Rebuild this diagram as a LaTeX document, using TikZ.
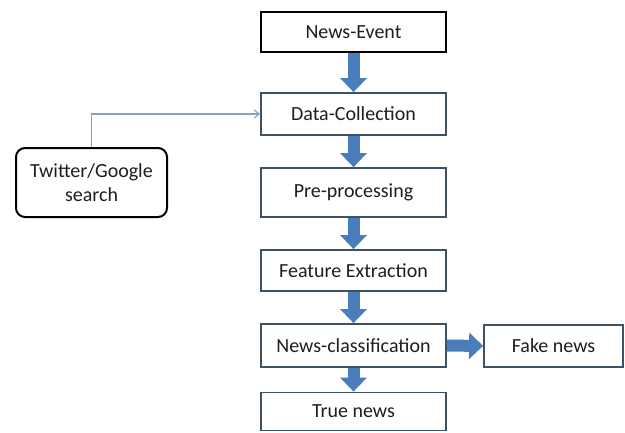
\documentclass[tikz,border=0pt]{standalone}
\usepackage{fontspec}
\setmainfont{Carlito}
\usetikzlibrary{arrows.meta}
\definecolor{boxline}{HTML}{3E5166}
\definecolor{blockblue}{HTML}{4A7EBB}
\definecolor{thinblue}{HTML}{7FA3C6}
\definecolor{txt}{HTML}{1E1E1E}
\tikzset{
  stepbox/.style={draw=boxline, line width=1.8pt, fill=white, minimum width=185pt,
    text=txt, font=\fontsize{20}{24}\selectfont, inner sep=0pt},
  topbox/.style={stepbox, draw=black, line width=2.2pt},
  srcbox/.style={draw=black, line width=2pt, rounded corners=9pt, fill=white,
    minimum width=151pt, minimum height=69pt, align=center, text=txt,
    font=\fontsize{20}{24}\selectfont, inner sep=0pt},
  blockarrow/.style={draw=blockblue, line width=12pt,
    -{Triangle[length=14pt,width=26pt]}},
  thinarrow/.style={draw=thinblue, line width=1.1pt, -{Straight Barb[length=5pt,width=8pt]}}
}
\begin{document}
\begin{tikzpicture}[x=1pt,y=-1pt]
\useasboundingbox[fill=white] (0,0) rectangle (625,432);
\node[topbox, minimum height=40pt] (ne) at (353.5,32) {News-Event};
\node[stepbox, minimum height=42pt] (dc) at (353.5,114) {Data-Collection};
\node[stepbox, minimum height=49pt] (pp) at (353.5,192.5) {Pre-processing};
\node[stepbox, minimum height=41pt] (fe) at (353.5,270.5) {Feature Extraction};
\node[stepbox, minimum height=43pt] (nc) at (353.5,345.5) {News-classification};
\node[stepbox, minimum height=38pt] (tn) at (353.5,411.5) {True news};
\node[stepbox, minimum width=139pt, minimum height=42pt] (fn) at (553.5,346) {Fake news};
\node[srcbox] (tw) at (91.5,182.5) {Twitter/Google\\search};
\draw[blockarrow] (ne.south) -- (dc.north);
\draw[blockarrow] (dc.south) -- (pp.north);
\draw[blockarrow] (pp.south) -- (fe.north);
\draw[blockarrow] (fe.south) -- (nc.north);
\draw[blockarrow] (nc.south) -- (tn.north);
\draw[blockarrow] (nc.east) -- (fn.west);
\draw[thinarrow] (tw.north) |- (dc.west);
\end{tikzpicture}
\end{document}
